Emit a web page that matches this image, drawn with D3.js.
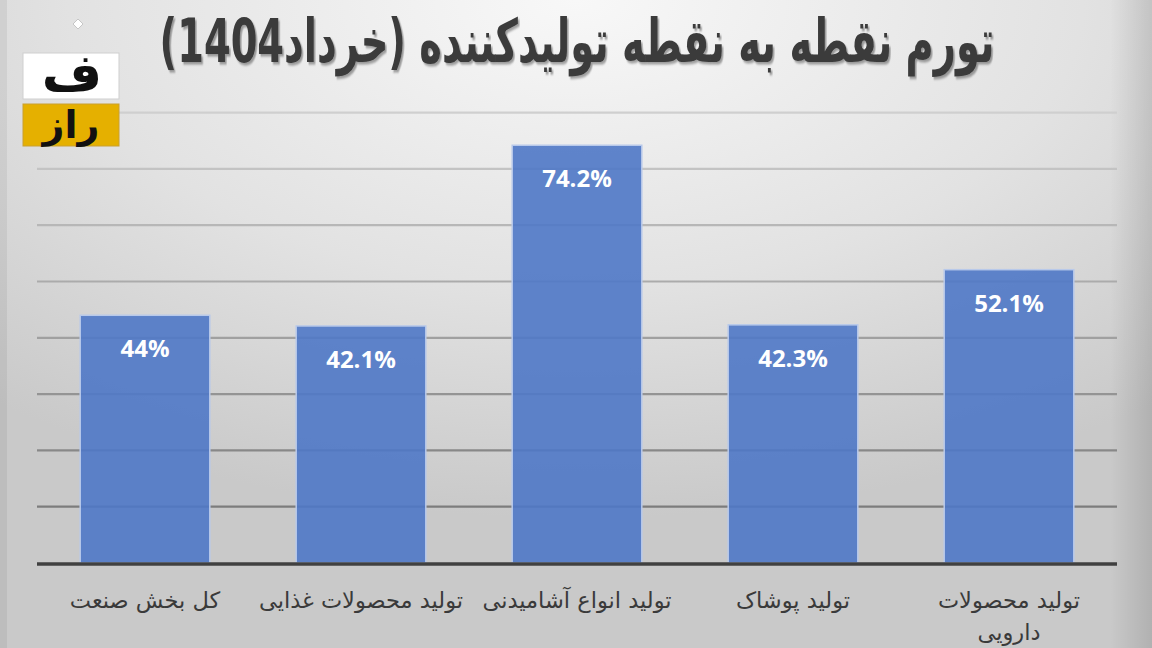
<!DOCTYPE html>
<html><head><meta charset="utf-8">
<script src="https://cdn.jsdelivr.net/npm/d3@7"></script>
<style>html,body{margin:0;padding:0;overflow:hidden;background:#ddd}</style>
</head><body>
<svg id="c" width="1152" height="648"></svg>
<script>
const titleText = "تورم نقطه به نقطه تولیدکننده (خرداد1404)";
const categories = ["کل بخش صنعت", "تولید محصولات غذایی", "تولید انواع آشامیدنی", "تولید پوشاک", "تولید محصولات دارویی"];
const categoryLines = [["کل بخش صنعت"], ["تولید محصولات غذایی"], ["تولید انواع آشامیدنی"], ["تولید پوشاک"], ["تولید محصولات", "دارویی"]];
const values = [44, 42.1, 74.2, 42.3, 52.1];
const valueLabels = ["44%", "42.1%", "74.2%", "42.3%", "52.1%"];
const yTicks = [10, 20, 30, 40, 50, 60, 70, 80];

const svg = d3.select("#c");
const W = 1152, H = 648;
const defs = svg.append("defs");
const bg = defs.append("radialGradient").attr("id","bg")
  .attr("cx","50%").attr("cy","0%").attr("r","80%").attr("fx","50%").attr("fy","0%");
bg.append("stop").attr("offset","0%").attr("stop-color","#f8f8f8");
bg.append("stop").attr("offset","55%").attr("stop-color","#e2e2e2");
bg.append("stop").attr("offset","100%").attr("stop-color","#c9c9c9");
svg.append("rect").attr("width",W).attr("height",H).attr("fill","url(#bg)");
const lg = defs.append("linearGradient").attr("id","edgeR").attr("x1","0").attr("x2","1");
lg.append("stop").attr("offset","0").attr("stop-color","#000").attr("stop-opacity",0);
lg.append("stop").attr("offset","1").attr("stop-color","#000").attr("stop-opacity",0.12);
svg.append("rect").attr("x",1110).attr("y",0).attr("width",42).attr("height",H).attr("fill","url(#edgeR)");
svg.append("rect").attr("x",0).attr("y",0).attr("width",7).attr("height",H).attr("fill","#000").attr("opacity",0.06);

const shadowF = defs.append("filter").attr("id","ts").attr("x","-5%").attr("y","-20%").attr("width","110%").attr("height","150%");
shadowF.append("feDropShadow").attr("dx",2.5).attr("dy",2.5).attr("stdDeviation",0.8).attr("flood-color","#000").attr("flood-opacity",0.35);

const x = d3.scaleBand().domain(categories).range([37, 1117]).paddingInner(0.4).paddingOuter(0.2);
const y = d3.scaleLinear().domain([0, 80]).range([563, 112.6]);

const gcol = d3.scaleLinear().domain([80, 10]).range(["#cfcfcf", "#7c7c7c"]);
svg.append("g").selectAll("line").data(yTicks).join("line")
  .attr("x1", 37).attr("x2", 1117)
  .attr("y1", d => y(d)).attr("y2", d => y(d))
  .attr("stroke", d => gcol(d)).attr("stroke-width", 2.2);

svg.append("g").selectAll("rect").data(values).join("rect")
  .attr("x", (d,i) => x(categories[i]))
  .attr("y", d => y(d))
  .attr("width", x.bandwidth())
  .attr("height", d => y(0) - y(d))
  .attr("fill", "#4f78c6").attr("fill-opacity", 0.9)
  .attr("stroke", "#b8c9ea").attr("stroke-width", 1.5);

svg.append("line").attr("x1",37).attr("x2",1117).attr("y1",y(0)+1).attr("y2",y(0)+1)
  .attr("stroke","#404040").attr("stroke-width",3.5);

svg.append("g").selectAll("text").data(values).join("text")
  .attr("x", (d,i) => x(categories[i]) + x.bandwidth()/2)
  .attr("y", d => y(d) + 42)
  .attr("text-anchor","middle")
  .attr("font-family","'Open Sans', sans-serif").attr("font-weight","bold")
  .attr("font-size", 24).attr("fill","#fff")
  .text((d,i) => valueLabels[i]);

const cl = svg.append("g").selectAll("text").data(categoryLines).join("text")
  .attr("text-anchor","middle").attr("direction","rtl")
  .attr("font-family","'DejaVu Sans', sans-serif").attr("font-size", 22.5).attr("fill","#3a3a3a");
cl.each(function(lines, i){
  const t = d3.select(this);
  const cx = x(categories[i]) + x.bandwidth()/2;
  lines.forEach((ln, j) => {
    t.append("tspan").attr("x", cx).attr("y", 608 + j*32).text(ln);
  });
});

const tg = svg.append("g");
const title = tg.append("text").attr("x", 0).attr("y", 0).attr("text-anchor","middle").attr("direction","rtl")
  .attr("font-family","'DejaVu Sans', sans-serif").attr("font-weight","bold").attr("font-size", 60)
  .attr("fill","#3b3b3b").attr("filter","url(#ts)").text(titleText);
const len = title.node().getComputedTextLength();
const sx = 835 / len;
tg.attr("transform", `translate(577,62) scale(${sx},1)`);

const logo = svg.append("g");
defs.append("clipPath").attr("id","lc").append("rect").attr("x",23).attr("y",53).attr("width",96).attr("height",46);
logo.append("rect").attr("x",23).attr("y",53).attr("width",96).attr("height",46).attr("fill","#fff").attr("stroke","#cfcfcf");
logo.append("text").attr("clip-path","url(#lc)").attr("x",72).attr("y",91).attr("text-anchor","middle")
  .attr("font-family","'DejaVu Sans', sans-serif").attr("font-weight","bold").attr("font-size",52).attr("fill","#111").text("ف");
logo.append("path").attr("d","M78,19 L83,24 L78,29 L73,24 Z").attr("fill","#fff").attr("stroke","#bbb").attr("stroke-width",0.8);
logo.append("rect").attr("x",23).attr("y",104).attr("width",96).attr("height",42).attr("fill","#e5b000").attr("stroke","#c9a030");
logo.append("text").attr("x",71).attr("y",138).attr("text-anchor","middle").attr("direction","rtl")
  .attr("font-family","'DejaVu Sans', sans-serif").attr("font-weight","bold").attr("font-size",38).attr("fill","#111").text("راز");
</script>
</body></html>
